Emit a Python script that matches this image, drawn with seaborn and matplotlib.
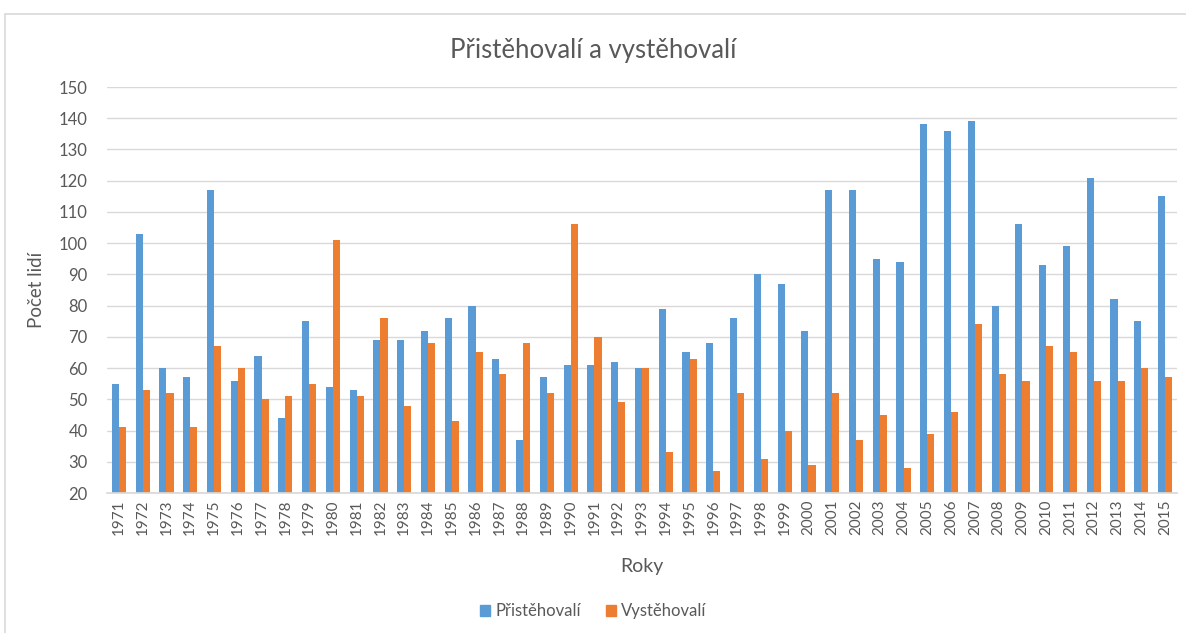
import matplotlib
matplotlib.use("Agg")
import matplotlib.pyplot as plt
import matplotlib.patches as mpatches
import pandas as pd
import seaborn as sns

# Data
years = list(range(1971, 2016))
prist = [55, 103, 60, 57, 117, 56, 64, 44, 75, 54, 53, 69, 69, 72, 76, 80, 63, 37, 57, 61,
         61, 62, 60, 79, 65, 68, 76, 90, 87, 72, 117, 117, 95, 94, 138, 136, 139, 80, 106, 93,
         99, 121, 82, 75, 115]
vyst = [41, 53, 52, 41, 67, 60, 50, 51, 55, 101, 51, 76, 48, 68, 43, 65, 58, 68, 52, 106,
        70, 49, 60, 33, 63, 27, 52, 31, 40, 29, 52, 37, 45, 28, 39, 46, 74, 58, 56, 67,
        65, 56, 56, 60, 57]
series_names = ["Přistěhovalí", "Vystěhovalí"]
colors = ["#5B9BD5", "#ED7D31"]

df = pd.DataFrame({
    "rok": [str(y) for y in years] * 2,
    "pocet": prist + vyst,
    "serie": [series_names[0]] * len(years) + [series_names[1]] * len(years),
})

sns.set_theme(style="white")
plt.rcParams['font.family'] = ['Lato', 'DejaVu Sans']

fig = plt.figure(figsize=(11.86, 6.33), dpi=100)
# axes from x=107..1177 px, y=87..493 px
ax = fig.add_axes([107 / 1186, 1 - 493 / 633, 1070 / 1186, 406 / 633])

sns.barplot(data=df, x="rok", y="pocet", hue="serie", palette=colors,
            width=0.6, gap=0, ax=ax, legend=False, saturation=1,
            edgecolor="none")

ax.set_ylim(20, 150)
ax.set_yticks(range(20, 151, 10))
ax.set_xlim(-0.5, len(years) - 0.5)
ax.yaxis.grid(True, color="#D9D9D9", linewidth=1)
ax.set_axisbelow(True)
for s in ["top", "right", "left"]:
    ax.spines[s].set_visible(False)
ax.spines["bottom"].set_color("#D9D9D9")
ax.tick_params(axis="x", rotation=90, labelsize=11, colors="#595959", length=0, pad=5)
ax.tick_params(axis="y", labelsize=12, colors="#595959", length=0, pad=14)

ax.set_xlabel("Roky", fontsize=14, color="#595959", labelpad=16)
ax.set_ylabel("Počet lidí", fontsize=13.5, color="#595959", labelpad=10)
fig.suptitle("Přistěhovalí a vystěhovalí", fontsize=18.5, color="#595959", y=0.94)

handles = [mpatches.Patch(color=c, label=n) for c, n in zip(colors, series_names)]
fig.legend(handles=handles, loc="center", bbox_to_anchor=(0.5, 0.034), ncol=2,
           frameon=False, fontsize=12, handlelength=0.6, handleheight=0.6,
           handletextpad=0.3, columnspacing=1.5, labelcolor="#595959")

# chart area border
fig.patches.append(mpatches.Rectangle((0.004, -0.01), 1.0, 0.988, transform=fig.transFigure,
                                      fill=False, edgecolor="#D9D9D9", linewidth=1.2))

fig.savefig("out.png", dpi=100)
